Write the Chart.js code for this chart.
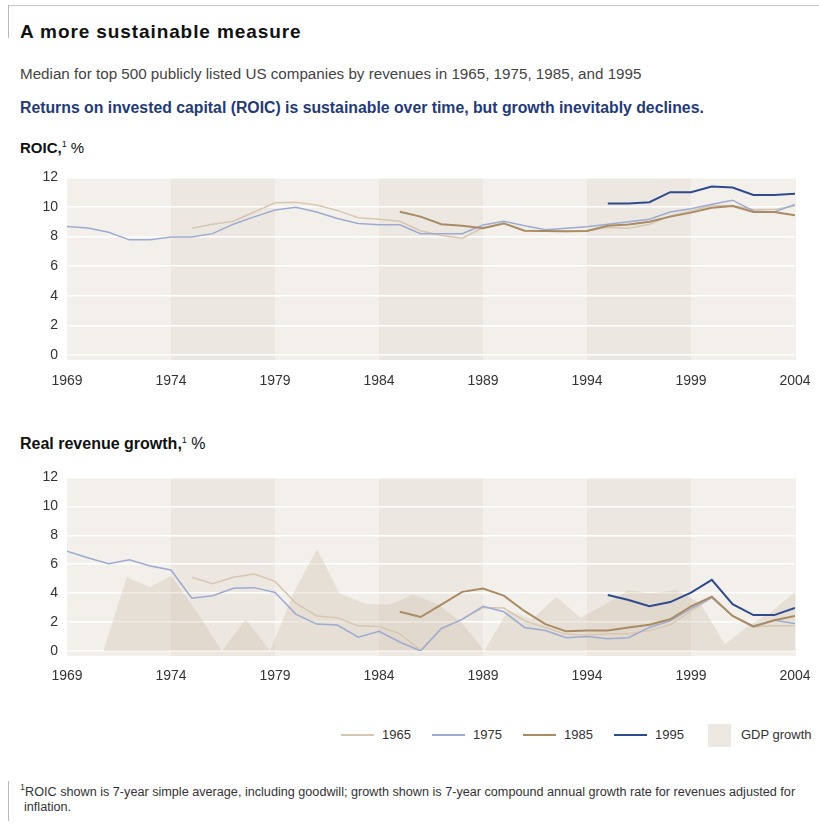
<!DOCTYPE html>
<html>
<head>
<meta charset="utf-8">
<script src="https://cdn.jsdelivr.net/npm/chart.js@4.4.1/dist/chart.umd.min.js"></script>
<style>
  body { margin: 0; width: 819px; height: 825px; position: relative; overflow: hidden; background: #fff;
         font-family: "Liberation Sans", Arial, sans-serif; color: #333; }
  .t { position: absolute; white-space: nowrap; line-height: 20px; }
  .rule-h { position: absolute; left: 8px; right: 0; top: 5px; height: 1px; background: #c8c8c8; }
  .rule-v { position: absolute; left: 8px; width: 1px; background: #b8b8b8; }
  sup { font-size: 9px; font-weight: normal; vertical-align: 6px; line-height: 0; }
  .legend-line { position: absolute; height: 2px; width: 33px; }
  canvas { position: absolute; left: 0; }
</style>
</head>
<body>
<div class="rule-h"></div>
<div class="rule-v" style="top:5px;height:33px"></div>
<div class="t" style="left:20px;top:22px;font-weight:bold;font-size:19px;letter-spacing:0.9px;color:#111">A more sustainable measure</div>
<div class="t" style="left:20px;top:64px;font-size:15.2px;color:#444">Median for top 500 publicly listed US companies by revenues in 1965, 1975, 1985, and 1995</div>
<div class="t" style="left:20px;top:98px;font-size:15.8px;font-weight:bold;color:#233a78">Returns on invested capital (ROIC) is sustainable over time, but growth inevitably declines.</div>
<div class="t" style="left:20px;top:138px;font-size:15px;color:#111"><b>ROIC,</b><sup>1</sup> %</div>
<canvas id="roicChart" style="top:160px" width="819" height="240"></canvas>
<div class="t" style="left:20px;top:434px;font-size:16px;color:#111"><b>Real revenue growth,</b><sup>1</sup> %</div>
<canvas id="growthChart" style="top:460px" width="819" height="240"></canvas>
<div id="legend"></div>
<div class="rule-v" style="top:781px;height:40px"></div>
<div class="t" style="left:20px;top:782px;font-size:12.65px;color:#333"><sup>1</sup>ROIC shown is 7-year simple average, including goodwill; growth shown is 7-year compound annual growth rate for revenues adjusted for</div>
<div class="t" style="left:24px;top:797px;font-size:12.65px;color:#333">inflation.</div>

<script>
const years = [1969, 1970, 1971, 1972, 1973, 1974, 1975, 1976, 1977, 1978, 1979, 1980,
  1981, 1982, 1983, 1984, 1985, 1986, 1987, 1988, 1989, 1990, 1991, 1992,
  1993, 1994, 1995, 1996, 1997, 1998, 1999, 2000, 2001, 2002, 2003, 2004];
const xTicks = [1969, 1974, 1979, 1984, 1989, 1994, 1999, 2004];
const yTicks = [0, 2, 4, 6, 8, 10, 12];
const seriesNames = ["1965", "1975", "1985", "1995"];

// ROIC, %
const roic1965 = [null, null, null, null, null, null,
  8.56, 8.84, 9.04, 9.66, 10.28, 10.32, 10.13, 9.77, 9.28, 9.17, 9.04, 8.4, 8.07, 7.89,
  8.6, 8.91, 8.4, 8.36, 8.34, 8.4, 8.62, 8.56, 8.84, 9.4, 9.73, 10.1, 10.1, 9.83, 9.83, 10.06];
const roic1975 = [8.69, 8.58, 8.29, 7.78, 7.78, 7.98, 7.98, 8.2, 8.84, 9.33, 9.79, 9.99,
  9.66, 9.22, 8.89, 8.8, 8.8, 8.2, 8.2, 8.2, 8.78, 9.04, 8.73, 8.47,
  8.56, 8.67, 8.84, 9.0, 9.17, 9.66, 9.88, 10.19, 10.46, 9.73, 9.66, 10.17];
const roic1985 = [null, null, null, null, null, null, null, null, null, null, null, null,
  null, null, null, null,
  9.68, 9.35, 8.84, 8.73, 8.56, 8.89, 8.4, 8.38, 8.36, 8.38, 8.73, 8.82, 9.0, 9.35,
  9.62, 9.95, 10.06, 9.66, 9.66, 9.44];
const roic1995 = [null, null, null, null, null, null, null, null, null, null, null, null,
  null, null, null, null, null, null, null, null, null, null, null, null, null, null,
  10.23, 10.23, 10.32, 11.0, 11.0, 11.38, 11.32, 10.81, 10.81, 10.9];

// Real revenue growth, %
const growth1965 = [null, null, null, null, null, null,
  5.1, 4.65, 5.1, 5.32, 4.81, 3.31, 2.42, 2.3, 1.74, 1.7, 1.19, 0.05, 1.5, 2.2,
  3.0, 2.97, 2.08, 1.63, 1.15, 1.1, 1.19, 1.19, 1.41, 1.81, 2.75, 3.69, 2.42, 1.68, 1.74, 1.74];
const growth1975 = [6.89, 6.45, 6.03, 6.31, 5.88, 5.6, 3.65, 3.82, 4.34, 4.38, 4.05, 2.55,
  1.86, 1.79, 0.96, 1.36, 0.62, 0, 1.57, 2.19, 3.09, 2.71, 1.63, 1.41,
  0.92, 1.0, 0.85, 0.92, 1.63, 2.08, 2.93, 3.69, 2.42, 1.74, 2.12, 1.9];
const growth1985 = [null, null, null, null, null, null, null, null, null, null, null, null,
  null, null, null, null,
  2.71, 2.35, 3.2, 4.09, 4.32, 3.83, 2.75, 1.86, 1.36, 1.41, 1.41, 1.63, 1.81, 2.19,
  3.09, 3.76, 2.42, 1.68, 2.12, 2.42];
const growth1995 = [null, null, null, null, null, null, null, null, null, null, null, null,
  null, null, null, null, null, null, null, null, null, null, null, null, null, null,
  3.87, 3.53, 3.09, 3.38, 4.03, 4.92, 3.24, 2.48, 2.48, 2.97];

// GDP growth area (points as placed in the picture)
const gdpYears = [1970.75, 1971.87, 1973.0, 1974.0, 1975.3, 1976.44, 1977.6, 1978.76,
  1979.95, 1981.03, 1982.1, 1983.35, 1984.5, 1985.65, 1986.85, 1987.95, 1989.06,
  1990.2, 1991.35, 1992.54, 1993.68, 1994.85, 1995.98, 1997.03, 1998.31, 1999.45,
  2000.63, 2001.8, 2002.95, 2004];
const gdpGrowth = [0, 5.1, 4.43, 5.2, 2.6, 0, 2.2, 0, 4.2, 7.05, 4.0, 3.25, 3.2, 3.9,
  3.2, 2.0, 0, 2.8, 2.2, 3.75, 2.3, 3.2, 4.2, 4.0, 4.2, 3.3, 0.47, 1.8, 2.8, 4.1];

// 5-year background bands
const bandEdges = [1969, 1974, 1979, 1984, 1989, 1994, 1999, 2004];

const lineColors = ["#d7c7b2", "#9eabd1", "#a98b64", "#2f4b8e"];
const lineWidths = [1.5, 1.5, 2, 2];
const gdpColor = "rgba(200, 184, 160, 0.3)";
const tickFont = { family: "'Liberation Sans', Arial, sans-serif", size: 14 };

const bandPlugin = {
  id: "bands",
  beforeDraw(chart) {
    const { ctx, chartArea, scales } = chart;
    ctx.save();
    for (let i = 0; i < bandEdges.length - 1; i++) {
      const x0 = scales.x.getPixelForValue(bandEdges[i]);
      const x1 = scales.x.getPixelForValue(bandEdges[i + 1]);
      ctx.fillStyle = i % 2 === 0 ? "#f3f0ec" : "#ece7e1";
      ctx.fillRect(x0, chartArea.top, x1 - x0 + 1, chartArea.bottom - chartArea.top + 5);
    }
    ctx.restore();
  },
  afterDraw(chart) {
    // gridlines run a little past the last band
    const { ctx, chartArea, scales } = chart;
    ctx.save();
    ctx.strokeStyle = "#ffffff";
    ctx.lineWidth = 1.5;
    yTicks.slice(1).forEach((v) => {
      const y = scales.y.getPixelForValue(v);
      ctx.beginPath();
      ctx.moveTo(chartArea.right + 1, y);
      ctx.lineTo(chartArea.right + 10, y);
      ctx.stroke();
    });
    ctx.restore();
  },
};

function makeChart(id, seriesList, withGdp, topPad, axisHeight, labelPad) {
  const datasets = seriesList.map((values, i) => ({
    label: seriesNames[i],
    data: years.map((yr, j) => ({ x: yr, y: values[j] })),
    borderColor: lineColors[i],
    borderWidth: lineWidths[i],
    pointRadius: 0,
    tension: 0,
    fill: false,
    order: 4 - i,
  }));
  if (withGdp) {
    datasets.push({
      label: "GDP growth",
      data: gdpYears.map((yr, j) => ({ x: yr, y: gdpGrowth[j] })),
      backgroundColor: gdpColor,
      borderWidth: 0,
      pointRadius: 0,
      tension: 0,
      fill: "origin",
      order: 10,
    });
  }

  return new Chart(document.getElementById(id), {
    type: "line",
    data: { datasets: datasets },
    plugins: [bandPlugin],
    options: {
      responsive: false,
      animation: false,
      events: [],
      layout: { padding: { top: topPad, right: 24, bottom: 0, left: 0 } },
      plugins: { legend: { display: false }, tooltip: { enabled: false } },
      scales: {
        x: {
          type: "linear",
          min: 1969,
          max: 2004,
          afterBuildTicks: (scale) => {
            scale.ticks = xTicks.map((v) => ({ value: v }));
          },
          afterFit: (scale) => {
            scale.height = axisHeight;
          },
          ticks: {
            autoSkip: false,
            maxRotation: 0,
            padding: labelPad,
            color: "#333",
            font: tickFont,
            callback: (value) => String(value),
          },
          // hidden tick marks push the labels down without widening the side padding
          grid: { display: false, drawTicks: true, tickLength: 14 },
          border: { display: false },
        },
        y: {
          min: 0,
          max: 12,
          afterBuildTicks: (scale) => {
            scale.ticks = yTicks.map((v) => ({ value: v }));
          },
          afterFit: (scale) => {
            scale.width = 67;
          },
          ticks: { padding: 9, color: "#333", font: tickFont },
          grid: { color: "#ffffff", lineWidth: 1.5, drawTicks: false },
          border: { display: false },
        },
      },
    },
  });
}

makeChart("roicChart", [roic1965, roic1975, roic1985, roic1995], false, 14, 45, 4);
makeChart("growthChart", [growth1965, growth1975, growth1985, growth1995], true, 12, 49, 3);

// legend
const legend = document.getElementById("legend");
const legendX = [341, 432, 523, 614];
seriesNames.forEach((name, i) => {
  const line = document.createElement("div");
  line.className = "legend-line";
  line.style.left = legendX[i] + "px";
  line.style.top = "734px";
  line.style.background = lineColors[i];
  legend.appendChild(line);
  const label = document.createElement("div");
  label.className = "t";
  label.style.left = legendX[i] + 41 + "px";
  label.style.top = "725px";
  label.style.fontSize = "13px";
  label.textContent = name;
  legend.appendChild(label);
});
const swatch = document.createElement("div");
swatch.style.cssText = "position:absolute;left:708px;top:724px;width:23px;height:23px;background:#ece8e2";
legend.appendChild(swatch);
const gdpLabel = document.createElement("div");
gdpLabel.className = "t";
gdpLabel.style.cssText = "left:741px;top:725px;font-size:13px";
gdpLabel.textContent = "GDP growth";
legend.appendChild(gdpLabel);
</script>
</body>
</html>
